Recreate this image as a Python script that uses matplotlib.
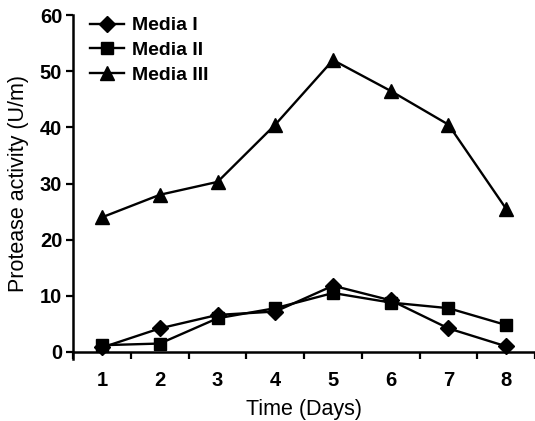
import numpy as np
import matplotlib.pyplot as plt

plt.rcParams['font.family'] = ['Liberation Sans', 'DejaVu Sans']

# --- Data ---
days = [1, 2, 3, 4, 5, 6, 7, 8]
media_1 = [0.8, 4.2, 6.6, 7.2, 11.8, 9.2, 4.2, 1.0]
media_2 = [1.2, 1.5, 6.0, 7.8, 10.5, 8.8, 7.8, 4.8]
media_3 = [24.0, 28.0, 30.3, 40.5, 52.0, 46.5, 40.5, 25.5]
y_ticks = [0, 10, 20, 30, 40, 50, 60]

fig = plt.figure(figsize=(5.35, 4.21), dpi=100)
ax = fig.add_axes([0.137, 0.164, 0.863, 0.800])

ax.plot(days, media_1, 'k-', marker='D', markersize=8.2, linewidth=1.7, label='Media I', clip_on=False)
ax.plot(days, media_2, 'k-', marker='s', markersize=8.5, linewidth=1.7, label='Media II', clip_on=False)
ax.plot(days, media_3, 'k-', marker='^', markersize=10, linewidth=1.7, label='Media III', clip_on=False)

ax.set_xlim(0.5, 8.5)
ax.set_ylim(0, 60)
ax.set_yticks(y_ticks)
ax.set_yticklabels([str(v) for v in y_ticks], fontsize=14.5, fontweight='bold')

# ticks sit between the days, labels sit on the days
ax.set_xticks(np.arange(0.5, 9.0, 1.0))
ax.set_xticklabels([])
ax.set_xticks(days, minor=True)
ax.set_xticklabels([str(d) for d in days], minor=True, fontsize=14.5, fontweight='bold')
ax.tick_params(axis='x', which='minor', length=0, pad=14)
ax.tick_params(axis='x', which='major', length=5, width=1.6, direction='out')
ax.tick_params(axis='y', length=5, width=1.6, direction='out', pad=3)

for side in ['top', 'right']:
    ax.spines[side].set_visible(False)
for side in ['left', 'bottom']:
    ax.spines[side].set_linewidth(1.8)
ax.spines['left'].set_bounds(-1.2, 60)

ax.set_xlabel('Time (Days)', fontsize=15.5, labelpad=6)
ax.set_ylabel('Protease activity (U/m)', fontsize=15.5, labelpad=8)

ax.legend(loc='upper left', bbox_to_anchor=(0.02, 1.018), frameon=False,
          prop={'size': 14, 'weight': 'bold'}, handlelength=1.75,
          handletextpad=0.4, labelspacing=0.36, borderaxespad=0)

fig.savefig('out.png', dpi=100)
